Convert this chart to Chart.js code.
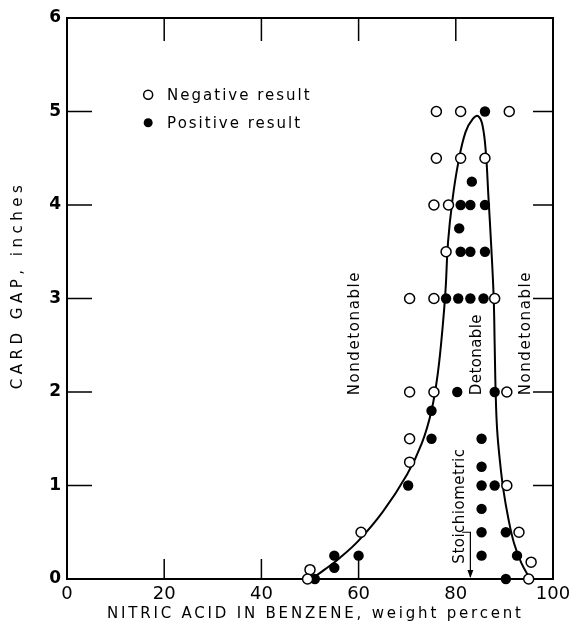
<!DOCTYPE html>
<html>
<head>
<meta charset="utf-8">
<script src="https://cdn.jsdelivr.net/npm/chart.js@4.4.1/dist/chart.umd.min.js"></script>
<style>
  html, body { margin: 0; padding: 0; background: #fff; }
</style>
</head>
<body>
<canvas id="chart" width="577" height="629"></canvas>
<script>
// tick values
const xTicks = [0, 20, 40, 60, 80, 100];
const yTicks = [0, 1, 2, 3, 4, 5, 6];

// open circles - negative result
const negX = [76, 81, 91, 76, 81, 86, 75.5, 78.5, 78, 70.5, 75.5, 88, 70.5, 75.5, 90.5, 70.5, 70.5, 90.5, 60.5, 93, 95.5, 50, 49.5, 95];
const negY = [5, 5, 5, 4.5, 4.5, 4.5, 4, 4, 3.5, 3, 3, 3, 2, 2, 2, 1.5, 1.25, 1, 0.5, 0.5, 0.18, 0.1, 0, 0];

// filled circles - positive result
const posX = [86, 83.3, 81, 83, 86, 80.7, 81, 83, 86, 78, 80.5, 83, 85.7, 80.3, 88, 75, 75, 85.3, 85.3, 70.2, 85.3, 88, 85.3, 85.3, 90.3, 55, 60, 85.3, 92.6, 55, 51, 90.3];
const posY = [5, 4.25, 4, 4, 4, 3.75, 3.5, 3.5, 3.5, 3, 3, 3, 3, 2, 2, 1.8, 1.5, 1.5, 1.2, 1, 1, 1, 0.75, 0.5, 0.5, 0.25, 0.25, 0.25, 0.25, 0.12, 0, 0];

// detonability boundary
const curveX = [50.3, 53, 56, 60, 65, 70, 73, 75, 76.3, 77.3, 77.9, 78.4, 79.3, 80.5, 82, 83.5, 84.6, 85.5, 86.2, 86.7, 87.3, 87.8, 88, 88.2, 88.5, 89.1, 89.8, 90.8, 92, 93.5, 95.3];
const curveY = [0, 0.1, 0.22, 0.41, 0.72, 1.12, 1.45, 1.8, 2.2, 2.7, 3.1, 3.6, 4.05, 4.45, 4.78, 4.92, 4.95, 4.85, 4.55, 4.1, 3.55, 3, 2.5, 2, 1.6, 1.25, 0.95, 0.65, 0.38, 0.17, 0];

const FONT = '"DejaVu Sans", sans-serif';

function toPoints(xs, ys) {
  return xs.map((x, i) => ({ x, y: ys[i] }));
}

// frame with inward ticks
const frameTicks = {
  id: 'frameTicks',
  beforeDatasetsDraw(chart) {
    const { ctx, chartArea: a, scales: { x, y } } = chart;
    ctx.save();
    ctx.strokeStyle = '#000';
    ctx.lineWidth = 2;
    ctx.strokeRect(a.left, a.top, a.right - a.left, a.bottom - a.top);
    ctx.lineWidth = 1.5;
    ctx.beginPath();
    [20, 40, 60, 80].forEach(v => {
      const px = x.getPixelForValue(v);
      ctx.moveTo(px, a.top); ctx.lineTo(px, a.top + 23);
    });
    [20, 40, 60].forEach(v => {
      const px = x.getPixelForValue(v);
      ctx.moveTo(px, a.bottom); ctx.lineTo(px, a.bottom - 20);
    });
    [1, 2, 3, 4, 5].forEach(v => {
      const py = y.getPixelForValue(v);
      ctx.moveTo(a.left, py); ctx.lineTo(a.left + 25, py);
      ctx.moveTo(a.right, py); ctx.lineTo(a.right - 20, py);
    });
    ctx.stroke();
    ctx.restore();
  }
};

function vText(ctx, text, px, py, spacing) {
  ctx.save();
  ctx.letterSpacing = spacing + 'px';
  ctx.translate(px, py);
  ctx.rotate(-Math.PI / 2);
  ctx.textAlign = 'center';
  ctx.textBaseline = 'middle';
  ctx.fillText(text, 0, 0);
  ctx.restore();
}

// labels, legend, stoichiometric arrow
const notes = {
  id: 'notes',
  afterDatasetsDraw(chart) {
    const { ctx, chartArea: a, scales: { x, y } } = chart;
    ctx.save();
    ctx.fillStyle = '#000';
    ctx.strokeStyle = '#000';
    ctx.font = '15px ' + FONT;

    vText(ctx, 'Nondetonable', x.getPixelForValue(59.3), y.getPixelForValue(2.63), 1.6);
    vText(ctx, 'Detonable', x.getPixelForValue(84.4), y.getPixelForValue(2.4), 0.4);
    vText(ctx, 'Nondetonable', x.getPixelForValue(94.4), y.getPixelForValue(2.63), 1.6);
    vText(ctx, 'Stoichiometric', x.getPixelForValue(80.9), y.getPixelForValue(0.78), 0.5);

    // arrow
    const ax = x.getPixelForValue(83);
    const ay = y.getPixelForValue(0.5);
    const by = y.getPixelForValue(0);
    ctx.lineWidth = 1.2;
    ctx.beginPath();
    ctx.moveTo(x.getPixelForValue(81.3), ay);
    ctx.lineTo(ax, ay);
    ctx.lineTo(ax, by - 2);
    ctx.stroke();
    ctx.beginPath();
    ctx.moveTo(ax, by - 1);
    ctx.lineTo(ax - 3, by - 9);
    ctx.lineTo(ax + 3, by - 9);
    ctx.closePath();
    ctx.fill();

    // legend
    const lx = x.getPixelForValue(16.7);
    const tx = x.getPixelForValue(20.6);
    const rows = [
      { label: 'Negative result', yv: 5.18, filled: false },
      { label: 'Positive result', yv: 4.88, filled: true }
    ];
    ctx.letterSpacing = '2px';
    ctx.textAlign = 'left';
    ctx.textBaseline = 'middle';
    rows.forEach(r => {
      const py = y.getPixelForValue(r.yv);
      ctx.beginPath();
      ctx.arc(lx, py, 4.5, 0, Math.PI * 2);
      if (r.filled) { ctx.fill(); } else { ctx.fillStyle = '#fff'; ctx.fill(); ctx.fillStyle = '#000'; ctx.lineWidth = 1.5; ctx.stroke(); }
      ctx.fillText(r.label, tx, py + 1);
    });

    // axis titles
    ctx.font = '15px ' + FONT;
    ctx.letterSpacing = '2.8px';
    ctx.textAlign = 'left';
    ctx.fillText('NITRIC ACID IN BENZENE, weight percent', a.left + 40, 614);
    vText(ctx, 'CARD GAP, inches', 18, 285, 4.5);
    ctx.restore();
  }
};

new Chart(document.getElementById('chart'), {
  type: 'scatter',
  data: {
    datasets: [
      {
        label: 'Negative result',
        data: toPoints(negX, negY),
        pointStyle: 'circle',
        pointRadius: 5,
        pointBackgroundColor: '#fff',
        pointBorderColor: '#000',
        pointBorderWidth: 1.5,
        clip: false
      },
      {
        label: 'Positive result',
        data: toPoints(posX, posY),
        pointStyle: 'circle',
        pointRadius: 5.2,
        pointBackgroundColor: '#000',
        pointBorderColor: '#000',
        pointBorderWidth: 0,
        clip: false
      },
      {
        label: 'Boundary',
        data: toPoints(curveX, curveY),
        showLine: true,
        borderColor: '#000',
        borderWidth: 2,
        pointRadius: 0,
        tension: 0.4,
        clip: false
      }
    ]
  },
  options: {
    responsive: false,
    animation: false,
    layout: { padding: { left: 0, top: 18, right: 24, bottom: 0 } },
    plugins: {
      legend: { display: false },
      tooltip: { enabled: false }
    },
    scales: {
      x: {
        type: 'linear',
        min: 0,
        max: 100,
        afterBuildTicks: s => { s.ticks = xTicks.map(v => ({ value: v })); },
        afterFit: s => { s.height = 50; },
        grid: { display: false, drawTicks: false },
        border: { display: false },
        ticks: { color: '#000', padding: 5, font: { family: FONT, size: 18 }, maxRotation: 0 }
      },
      y: {
        type: 'linear',
        min: 0,
        max: 6,
        afterBuildTicks: s => { s.ticks = yTicks.map(v => ({ value: v })); },
        afterFit: s => { s.width = 67; },
        grid: { display: false, drawTicks: false },
        border: { display: false },
        ticks: { color: '#000', padding: 6, font: { family: FONT, size: 17, weight: 'bold' } }
      }
    }
  },
  plugins: [frameTicks, notes]
});
</script>
</body>
</html>
